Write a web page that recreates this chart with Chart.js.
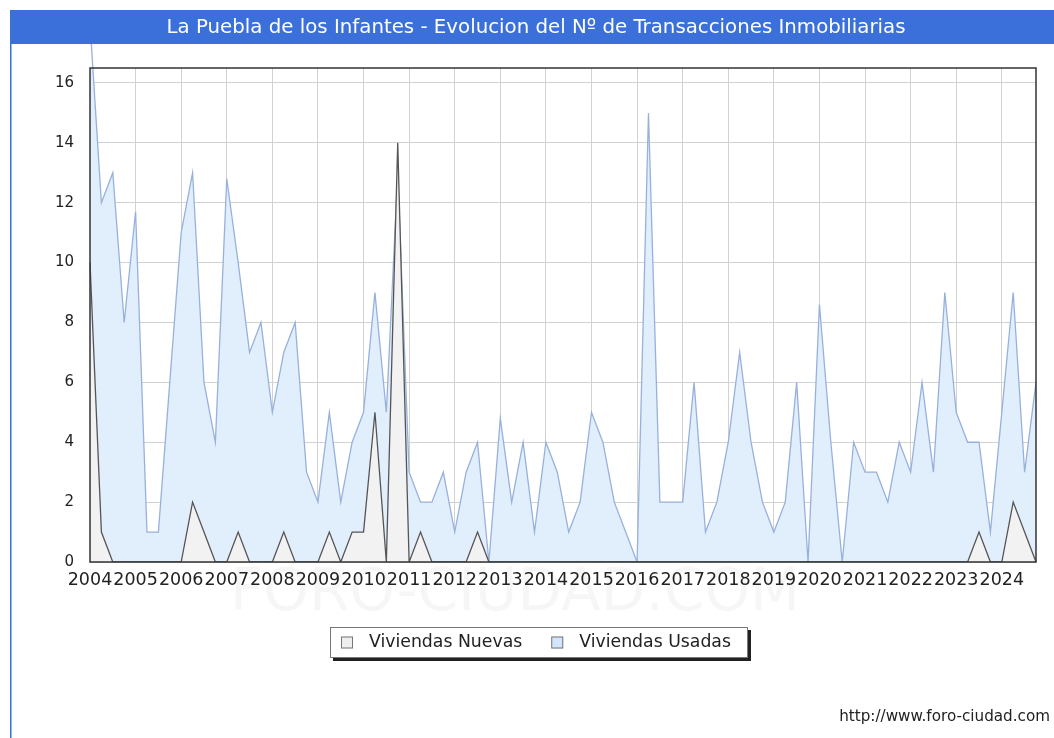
<!DOCTYPE html>
<html>
<head>
<meta charset="utf-8">
<title>La Puebla de los Infantes - Transacciones Inmobiliarias</title>
<script src="https://cdn.jsdelivr.net/npm/chart.js@4.4.1/dist/chart.umd.min.js"></script>
<style>
    html, body { margin: 0; padding: 0; background: #fff; }
    #wrap { width: 1054px; height: 738px; position: relative; }
</style>
</head>
<body>
<div id="wrap"><canvas id="chart" width="1054" height="738"></canvas></div>
<script>
// Tick labels (one per year, data is quarterly)
const years = ['2004', '2005', '2006', '2007', '2008', '2009', '2010', '2011', '2012', '2013', '2014',
               '2015', '2016', '2017', '2018', '2019', '2020', '2021', '2022', '2023', '2024'];
const quarters = ['T1', 'T2', 'T3', 'T4'];

// Viviendas nuevas, per quarter
const viviendasNuevas = [
    10, 1, 0, 0,   0, 0, 0, 0,   0, 2, 1, 0,   0, 1, 0, 0,   0, 1, 0, 0,
    0, 1, 0, 1,    1, 5, 0, 14,  0, 1, 0, 0,   0, 0, 1, 0,   0, 0, 0, 0,
    0, 0, 0, 0,    0, 0, 0, 0,   0, 0, 0, 0,   0, 0, 0, 0,   0, 0, 0, 0,
    0, 0, 0, 0,    0, 0, 0, 0,   0, 0, 0, 0,   0, 0, 0, 0,   0, 0, 1, 0,
    0, 2, 1, 0
];

// Viviendas usadas, per quarter
const viviendasUsadas = [
    18, 12, 13, 8,   11.7, 1, 1, 6,   11, 13, 6, 4,   12.8, 10, 7, 8,   5, 7, 8, 3,
    2, 5, 2, 4,      5, 9, 5, 13,     3, 2, 2, 3,     1, 3, 4, 0,       4.8, 2, 4, 1,
    4, 3, 1, 2,      5, 4, 2, 1,      0, 15, 2, 2,    2, 6, 1, 2,       4, 7, 4, 2,
    1, 2, 6, 0,      8.6, 4, 0, 4,    3, 3, 2, 4,     3, 6, 3, 9,       5, 4, 4, 1,
    5, 9, 3, 6
];

const titleText = 'La Puebla de los Infantes - Evolucion del Nº de Transacciones Inmobiliarias';
const footerText = 'http://www.foro-ciudad.com';

// one category per quarter, only the first quarter of a year gets a visible label
const labels = [];
years.forEach(year => {
    quarters.forEach(q => labels.push(year + ' ' + q));
});

const FONT = '"DejaVu Sans", Verdana, sans-serif';
const BLUE = '#3b6fd9';

const decorations = {
    id: 'decorations',
    beforeDraw(chart) {
        const ctx = chart.ctx;
        ctx.save();
        ctx.fillStyle = '#fff';
        ctx.fillRect(0, 0, chart.width, chart.height);

        // faint watermark under the x axis
        ctx.font = '58px ' + FONT;
        ctx.fillStyle = 'rgba(0, 0, 0, 0.035)';
        ctx.textAlign = 'center';
        ctx.textBaseline = 'middle';
        ctx.fillText('FORO-CIUDAD.COM', 515, 595);

        // title bar and left rule
        ctx.fillStyle = BLUE;
        ctx.fillRect(10, 10, chart.width - 10, 34);
        ctx.fillRect(10, 44, 1.5, chart.height - 44);

        ctx.font = '19.8px ' + FONT;
        ctx.fillStyle = '#fff';
        ctx.fillText(titleText, 536, 28);
        ctx.restore();
    },
    afterDatasetsDraw(chart) {
        const a = chart.chartArea;
        const ctx = chart.ctx;
        ctx.save();
        ctx.strokeStyle = '#333';
        ctx.lineWidth = 1.5;
        ctx.strokeRect(a.left, a.top, a.right - a.left, a.bottom - a.top);
        ctx.restore();
    },
    afterDraw(chart) {
        const ctx = chart.ctx;
        ctx.save();

        // legend box with drop shadow
        const lx = 330, ly = 627, lw = 418, lh = 31;
        ctx.fillStyle = '#222';
        ctx.fillRect(lx + 3, ly + 3, lw, lh);
        ctx.fillStyle = '#fff';
        ctx.fillRect(lx, ly, lw, lh);
        ctx.strokeStyle = '#777';
        ctx.lineWidth = 1;
        ctx.strokeRect(lx + 0.5, ly + 0.5, lw - 1, lh - 1);

        ctx.font = '17.3px ' + FONT;
        ctx.textAlign = 'left';
        ctx.textBaseline = 'middle';
        let x = lx + 11;
        const cy = ly + lh / 2;
        chart.data.datasets.forEach(ds => {
            ctx.fillStyle = ds.legendBox;
            ctx.fillRect(x, cy - 6, 12, 12);
            ctx.strokeStyle = '#777';
            ctx.strokeRect(x + 0.5, cy - 5.5, 11, 11);
            ctx.fillStyle = '#222';
            ctx.fillText(ds.label, x + 28, cy);
            x += 28 + ctx.measureText(ds.label).width + 29;
        });

        // footer link
        ctx.font = '15.2px ' + FONT;
        ctx.textAlign = 'right';
        ctx.fillStyle = '#222';
        ctx.fillText(footerText, 1050, 717);
        ctx.restore();
    }
};

new Chart(document.getElementById('chart'), {
    type: 'line',
    data: {
        labels: labels,
        datasets: [{
            label: 'Viviendas Nuevas',
            data: viviendasNuevas,
            borderColor: '#555555',
            backgroundColor: '#f2f2f2',
            legendBox: '#eeeeee',
            borderWidth: 1.3,
            fill: 'origin',
            pointRadius: 0,
            tension: 0
        }, {
            label: 'Viviendas Usadas',
            data: viviendasUsadas,
            borderColor: '#98b0dc',
            backgroundColor: '#e1effd',
            legendBox: '#d2e5fa',
            borderWidth: 1.3,
            fill: 'origin',
            pointRadius: 0,
            tension: 0,
            clip: { left: 0, top: 24, right: 0, bottom: 0 }
        }]
    },
    options: {
        responsive: false,
        animation: false,
        events: [],
        layout: { padding: { top: 68, right: 18, bottom: 0, left: 0 } },
        plugins: {
            legend: { display: false },
            title: { display: false },
            tooltip: { enabled: false }
        },
        scales: {
            x: {
                offset: false,
                border: { display: false },
                grid: {
                    drawTicks: false,
                    color: ctx => (ctx.index % 4 === 0 ? '#d2d2d2' : 'rgba(0,0,0,0)'),
                    lineWidth: 1
                },
                ticks: {
                    autoSkip: false,
                    maxRotation: 0,
                    minRotation: 0,
                    padding: 8,
                    color: '#222',
                    font: { family: FONT, size: 17.5 },
                    callback: (value, index) => (index % 4 === 0 ? years[index / 4] : '')
                },
                afterFit: scale => { scale.height = 176; }
            },
            y: {
                min: 0,
                max: 16.5,
                border: { display: false },
                grid: { drawTicks: false, color: '#d2d2d2', lineWidth: 1 },
                ticks: {
                    stepSize: 2,
                    includeBounds: false,
                    padding: 16,
                    color: '#222',
                    font: { family: FONT, size: 15 }
                },
                afterFit: scale => { scale.width = 90; }
            }
        }
    },
    plugins: [decorations]
});
</script>
</body>
</html>
